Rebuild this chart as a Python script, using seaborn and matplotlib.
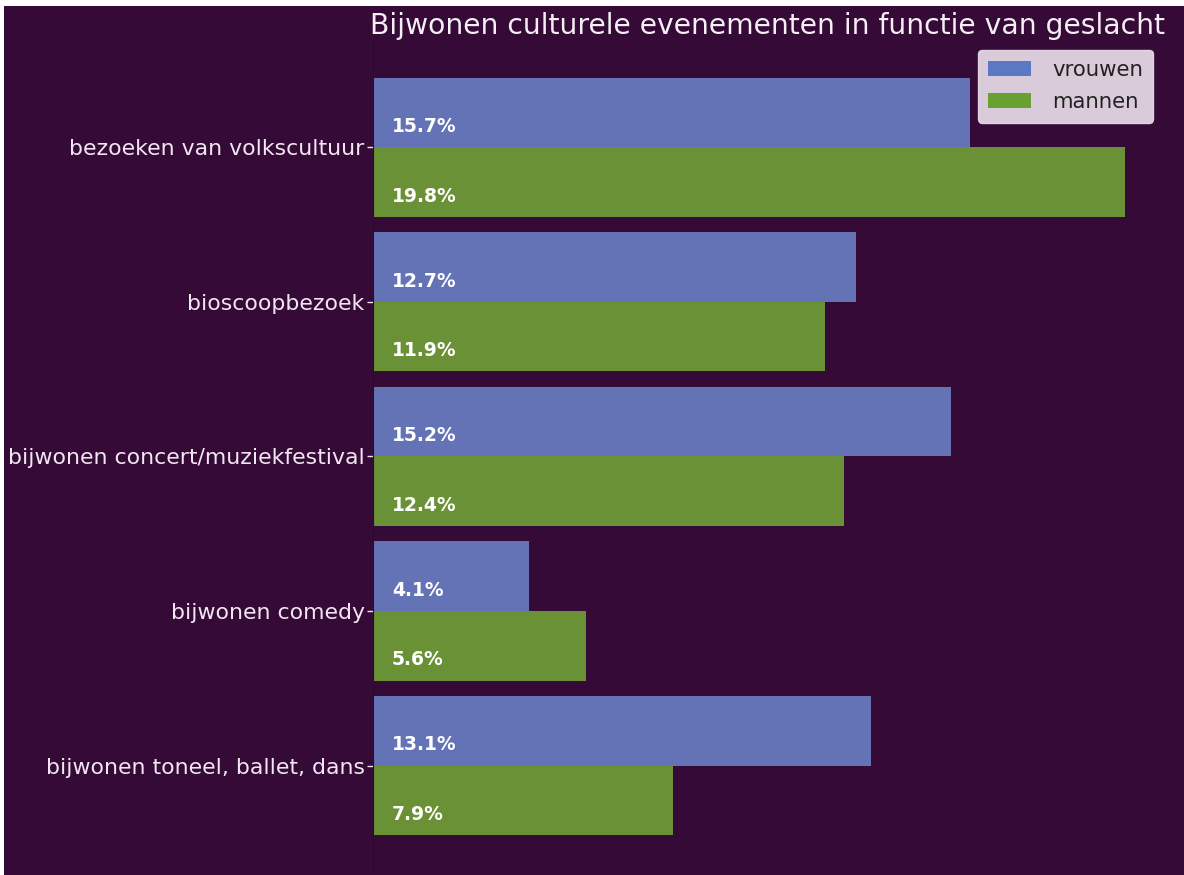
import matplotlib
matplotlib.use("Agg")
import matplotlib.pyplot as plt
import seaborn as sns
import pandas as pd
from matplotlib.patches import Rectangle

categories = ["bezoeken van volkscultuur", "bioscoopbezoek",
              "bijwonen concert/muziekfestival", "bijwonen comedy",
              "bijwonen toneel, ballet, dans"]
vrouwen = [15.7, 12.7, 15.2, 4.1, 13.1]
mannen = [19.8, 11.9, 12.4, 5.6, 7.9]
series_names = ["vrouwen", "mannen"]
title = "Bijwonen culturele evenementen in functie van geslacht"

bg = "#350a37"
colors = ["#6473b6", "#6a9136"]
legend_colors = ["#5b78c2", "#68a032"]

df = pd.DataFrame({
    "categorie": categories * 2,
    "waarde": vrouwen + mannen,
    "geslacht": [series_names[0]] * len(categories) + [series_names[1]] * len(categories),
})

sns.set_style("dark")
plt.rcParams["font.family"] = ["DejaVu Sans"]

fig = plt.figure(figsize=(11.84, 8.75), dpi=100, facecolor=bg)
ax = fig.add_axes([373 / 1184, 2 / 875, (1163 - 373) / 1184, (873 - 40) / 875])
ax.set_facecolor(bg)

sns.barplot(data=df, y="categorie", x="waarde", hue="geslacht", orient="h",
            palette=colors, width=0.9, ax=ax, saturation=1, errorbar=None,
            linewidth=0)

# matplotlib-style 5% margins around the bars (y inverted)
n = len(categories)
span = n - 1 + 0.9
ax.set_ylim(n - 1 + 0.45 + 0.05 * span, -0.45 - 0.05 * span)

for cont in ax.containers:
    for patch, v in zip(cont.patches, cont.datavalues):
        ax.text(patch.get_x() + 0.5, patch.get_y() + patch.get_height() * 0.7,
                f"{v:.1f}%", color="white", fontsize=13.5, fontweight="bold",
                va="center", ha="left")

ax.set_xlabel("")
ax.set_ylabel("")
ax.set_xticks([])
ax.tick_params(axis="y", colors="#f2e6f2", labelsize=15.8, length=4, width=1,
               left=True, pad=2)
for s in ax.spines.values():
    s.set_visible(False)
ax.spines["left"].set_visible(True)
ax.spines["left"].set_color("#2a0a2c")
ax.grid(False)

ax.set_title(title, fontsize=20.3, color="#f5eef5", pad=2)

leg = ax.legend(loc="upper right", fontsize=15.3, frameon=True, framealpha=0.92,
                facecolor="#e8dde8", edgecolor="#e8dde8", title=None,
                handlelength=2.0, borderaxespad=0.45, borderpad=0.5,
                labelspacing=0.55, handletextpad=1.0)
for t in leg.get_texts():
    t.set_color("#222222")
for h, c in zip(leg.legend_handles, legend_colors):
    h.set_facecolor(c)
    h.set_edgecolor(c)

# white page margins visible in the reference
fig.patches.append(Rectangle((0, 1 - 6 / 875), 1, 6 / 875, transform=fig.transFigure,
                             facecolor="white", edgecolor="none", zorder=10))
fig.patches.append(Rectangle((0, 0), 4 / 1184, 1, transform=fig.transFigure,
                             facecolor="white", edgecolor="none", zorder=10))

fig.savefig("out.png", dpi=100, facecolor=bg)
